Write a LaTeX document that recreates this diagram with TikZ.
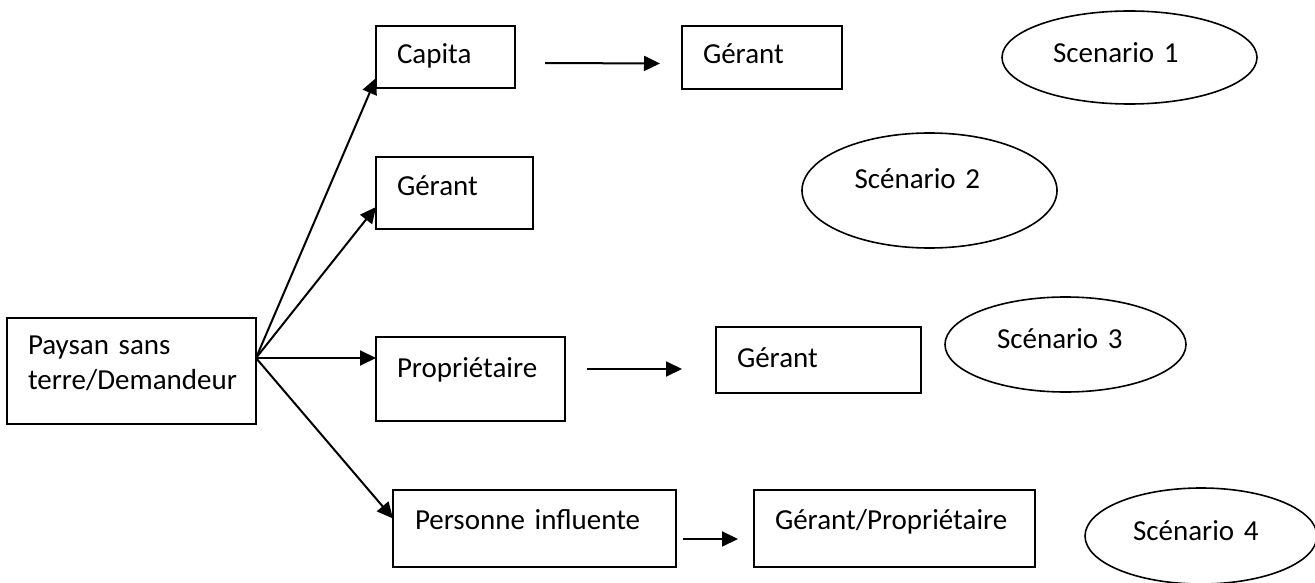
\documentclass[tikz,border=0pt]{standalone}
\usepackage{fontspec}
\setmainfont{Carlito}
\usetikzlibrary{arrows.meta, shapes.geometric}

\begin{document}
\begin{tikzpicture}[
  x=1pt, y=-1pt,
  font=\fontsize{29}{35}\selectfont,
  boite/.style={draw, line width=2pt, outer sep=0pt, inner xsep=21pt, inner ysep=0pt, align=left, anchor=north west},
  scen/.style={draw, ellipse, line width=1.6pt, inner sep=0pt, outer sep=0pt, align=left},
  fleche/.style={line width=2pt, -{Triangle[length=16pt,width=15pt]}}
]
\useasboundingbox (0,0) rectangle (1315,583);

% boites
\node[boite, text width=207pt, text height=36pt, text depth=70pt] (paysan) at (7,318) {Paysan sans\\terre/Demandeur};
\node[boite, text width=97pt, text height=38pt, text depth=24pt] (capita) at (376,26) {Capita};
\node[boite, text width=118pt, text height=38pt, text depth=25pt] (gerant1) at (682,26) {Gérant};
\node[boite, text width=115pt, text height=38pt, text depth=34pt] (gerant2) at (376,157) {Gérant};
\node[boite, text width=147pt, text height=40pt, text depth=44pt] (proprio) at (376,337) {Propriétaire};
\node[boite, text width=163pt, text height=40pt, text depth=26pt] (gerant3) at (716,327) {Gérant};
\node[boite, inner xsep=22pt, text width=239pt, text height=39pt, text depth=38pt] (personne) at (393,490) {Personne influente};
\node[boite, text width=239pt, text height=39pt, text depth=38pt] (gerprop) at (754,490) {Gérant/Propriétaire};

% scenarios
\node[scen, minimum width=255pt, minimum height=93pt, text width=153pt, text height=14pt, text depth=4pt] (sc1) at (1129.5,57.5) {Scenario 1};
\node[scen, minimum width=255pt, minimum height=115pt, text width=150pt, text height=12pt, text depth=16pt] (sc2) at (929.5,190.5) {Scénario 2};
\node[scen, minimum width=241pt, minimum height=95pt, text width=137pt, text height=16pt, text depth=9pt] (sc3) at (1065.5,344.5) {Scénario 3};
\node[scen, minimum width=232pt, minimum height=96pt, text width=136pt, text height=16pt, text depth=8pt] (sc4) at (1201,536) {Scénario 4};

% fleches
\coordinate (dep) at ([yshift=13pt]paysan.east);
\draw[fleche] (dep) -- ([yshift=10pt]capita.south west);
\draw[fleche] (dep) -- ([yshift=22pt]gerant2.south west);
\draw[fleche] (dep) -- ([yshift=21pt]proprio.west);
\draw[fleche] (dep) -- ([yshift=10pt]personne.west);

\draw[fleche] ([xshift=30pt,yshift=-6pt]capita.east) -- ([xshift=-22pt,yshift=-6pt]gerant1.west);
\draw[fleche] ([xshift=22pt,yshift=10pt]proprio.east) -- ([xshift=-34pt,yshift=-9pt]gerant3.west);
\draw[fleche] ([xshift=7pt,yshift=-10.5pt]personne.east) -- ([xshift=-16pt,yshift=-10.5pt]gerprop.west);
\end{tikzpicture}
\end{document}
